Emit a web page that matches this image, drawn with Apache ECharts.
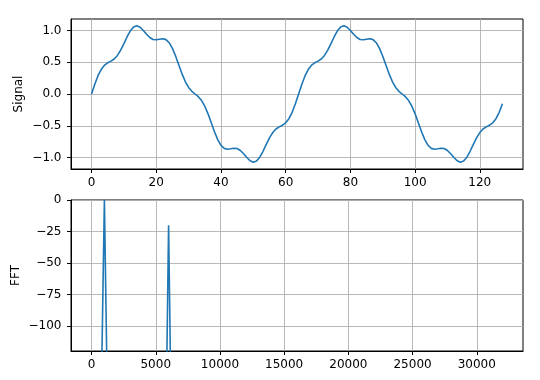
<!DOCTYPE html>
<html>
<head>
<meta charset="utf-8">
<script src="https://cdn.jsdelivr.net/npm/echarts@6/dist/echarts.min.js"></script>
<style>html,body{margin:0;padding:0;background:#fff}#c{width:540px;height:380px}</style>
</head>
<body>
<div id="c"></div>
<script>
// Signal samples (index 0..127)
const signal = [
 0, 0.1536, 0.2875, 0.3884, 0.4534, 0.4909, 0.5173, 0.5513,
 0.6071, 0.6899, 0.7932, 0.9014, 0.9946, 1.0550, 1.0732, 1.0508,
 1.0, 0.9396, 0.8884, 0.8588, 0.8532, 0.8624, 0.8698, 0.8561,
 0.8071, 0.7175, 0.5939, 0.4519, 0.3120, 0.1922, 0.1027, 0.0424,
 0, -0.0424, -0.1027, -0.1922, -0.3120, -0.4519, -0.5939, -0.7175,
 -0.8071, -0.8561, -0.8698, -0.8624, -0.8532, -0.8588, -0.8884, -0.9396,
 -1.0, -1.0508, -1.0732, -1.0550, -0.9946, -0.9014, -0.7932, -0.6899,
 -0.6071, -0.5513, -0.5173, -0.4909, -0.4534, -0.3884, -0.2875, -0.1536,
 0, 0.1536, 0.2875, 0.3884, 0.4534, 0.4909, 0.5173, 0.5513,
 0.6071, 0.6899, 0.7932, 0.9014, 0.9946, 1.0550, 1.0732, 1.0508,
 1.0, 0.9396, 0.8884, 0.8588, 0.8532, 0.8624, 0.8698, 0.8561,
 0.8071, 0.7175, 0.5939, 0.4519, 0.3120, 0.1922, 0.1027, 0.0424,
 0, -0.0424, -0.1027, -0.1922, -0.3120, -0.4519, -0.5939, -0.7175,
 -0.8071, -0.8561, -0.8698, -0.8624, -0.8532, -0.8588, -0.8884, -0.9396,
 -1.0, -1.0508, -1.0732, -1.0550, -0.9946, -0.9014, -0.7932, -0.6899,
 -0.6071, -0.5513, -0.5173, -0.4909, -0.4534, -0.3884, -0.2875, -0.1536
];

// FFT frequencies (Hz) and magnitudes (dB)
const freqs = [
 0, 500, 1000, 1500, 2000, 2500, 3000, 3500, 4000, 4500,
 5000, 5500, 6000, 6500, 7000, 7500, 8000, 8500, 9000, 9500,
 10000, 10500, 11000, 11500, 12000, 12500, 13000, 13500, 14000, 14500,
 15000, 15500, 16000, 16500, 17000, 17500, 18000, 18500, 19000, 19500,
 20000, 20500, 21000, 21500, 22000, 22500, 23000, 23500, 24000, 24500,
 25000, 25500, 26000, 26500, 27000, 27500, 28000, 28500, 29000, 29500,
 30000, 30500, 31000, 31500, 32000
];
const fftDb = [
 -330, -320, 0, -340, -325, -335, -318, -329, -322, -337,
 -326, -410, -20, -400, -331, -324, -336, -319, -328, -333,
 -321, -338, -327, -332, -323, -334, -329, -320, -336, -325,
 -331, -322, -339, -327, -330, -324, -335, -321, -333, -328,
 -326, -337, -323, -332, -329, -320, -334, -327, -331, -325,
 -338, -322, -330, -336, -324, -333, -328, -321, -335, -326,
 -332, -323, -337, -329, -331
];

// Tick labels
const sigXTicks = [0, 20, 40, 60, 80, 100, 120];
const sigYTicks = [-1.0, -0.5, 0.0, 0.5, 1.0];
const fftXTicks = [0, 5000, 10000, 15000, 20000, 25000, 30000];
const fftYTicks = [-100, -75, -50, -25, 0];

const minus = s => String(s).replace('-', '\u2212');
const font = 'DejaVu Sans';
const txt = '#000';
const fs = 12;

function xAx(grid, min, max, ticks, fmt) {
  return {
    type: 'value', gridIndex: grid, min: min, max: max,
    axisLine: { show: true, onZero: false, lineStyle: { color: '#000', width: 1 } },
    axisTick: { show: true, length: 4, customValues: ticks, lineStyle: { color: '#000', width: 1 } },
    axisLabel: { customValues: ticks, formatter: fmt, color: txt, fontFamily: font, fontSize: fs, margin: 8 },
    splitLine: { show: true, lineStyle: { color: '#b0b0b0', width: 0.9 } }
  };
}
function yAx(grid, min, max, ticks, fmt, name, gap) {
  return {
    type: 'value', gridIndex: grid, min: min, max: max,
    name: name, nameLocation: 'middle', nameRotate: 90, nameGap: gap, nameMoveOverlap: false,
    nameTextStyle: { color: txt, fontFamily: font, fontSize: fs },
    axisLine: { show: true, onZero: false, lineStyle: { color: '#000', width: 1 } },
    axisTick: { show: true, length: 4, customValues: ticks, lineStyle: { color: '#000', width: 1 } },
    axisLabel: { customValues: ticks, formatter: fmt, color: txt, fontFamily: font, fontSize: fs, margin: 9.5 },
    splitLine: { show: true, lineStyle: { color: '#b0b0b0', width: 0.9 } }
  };
}

const chart = echarts.init(document.getElementById('c'), null, { renderer: 'canvas' });
chart.setOption({
  animation: false,
  backgroundColor: '#fff',
  grid: [
    { left: 71, right: 17, top: 19, height: 150, show: true, borderColor: '#000', borderWidth: 1, backgroundColor: 'transparent', containLabel: false, outerBoundsMode: 'none' },
    { left: 71, right: 17, top: 200, height: 151, show: true, borderColor: '#000', borderWidth: 1, backgroundColor: 'transparent', containLabel: false, outerBoundsMode: 'none' }
  ],
  xAxis: [
    xAx(0, -6.35, 133.35, sigXTicks, v => minus(v)),
    xAx(1, -1600, 33600, fftXTicks, v => minus(v))
  ],
  yAxis: [
    yAx(0, -1.1805, 1.1805, sigYTicks, v => minus(Number(v).toFixed(1)), 'Signal', 46),
    yAx(1, -120, 0, fftYTicks, v => minus(v), 'FFT', 49)
  ],
  series: [
    {
      type: 'line', xAxisIndex: 0, yAxisIndex: 0,
      data: signal.map((v, i) => [i, v]),
      showSymbol: false, smooth: false, clip: true,
      lineStyle: { color: '#1f77b4', width: 1.6 }
    },
    {
      type: 'line', xAxisIndex: 1, yAxisIndex: 1,
      data: freqs.map((f, i) => [f, fftDb[i]]),
      showSymbol: false, smooth: false, clip: true,
      lineStyle: { color: '#1f77b4', width: 1.6 }
    }
  ]
});
</script>
</body>
</html>
